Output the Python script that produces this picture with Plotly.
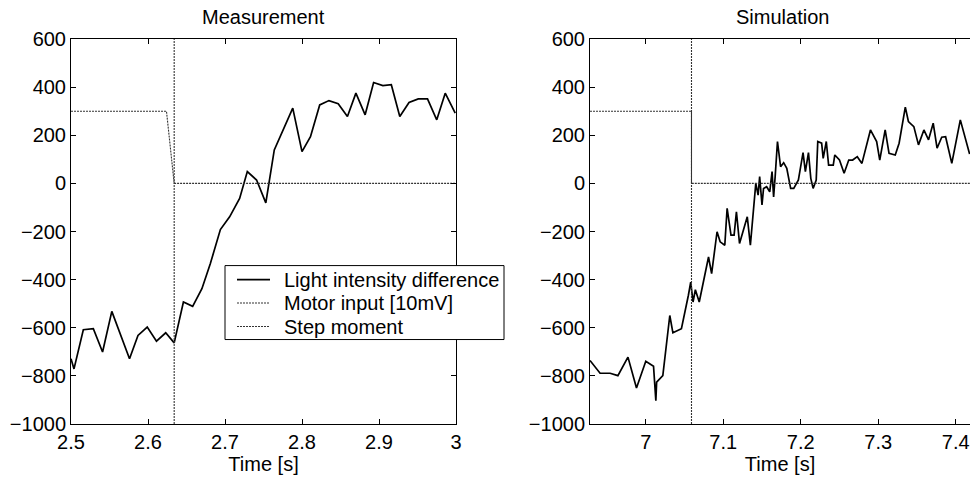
import plotly.graph_objects as go

# ---------------- data ----------------
# Measurement (left)
meas_t = [2.5, 2.5039, 2.516, 2.529, 2.541, 2.553, 2.576, 2.587, 2.599, 2.611,
          2.623, 2.634, 2.646, 2.658, 2.670, 2.681, 2.694, 2.706, 2.719, 2.729,
          2.741, 2.753, 2.764, 2.776, 2.788, 2.800, 2.811, 2.823, 2.835, 2.847,
          2.859, 2.870, 2.882, 2.893, 2.905, 2.916, 2.927, 2.939, 2.951, 2.963,
          2.975, 2.986, 2.999]
meas_light = [-729, -771, -608, -604, -701, -532, -729, -632, -597, -656,
              -621, -663, -493, -511, -438, -333, -192, -139, -63, 49,
              14, -81, 139, 229, 313, 132, 194, 326, 344, 331,
              278, 375, 285, 419, 406, 410, 278, 336, 351, 351,
              264, 375, 292]
meas_motor_t = [2.5, 2.624, 2.634, 3.0]
meas_motor = [300, 300, 0, 0]
meas_step_t = [2.634, 2.634]
step_y = [-1000, 600]

# Simulation (right)
sim_t = [6.928, 6.941, 6.954, 6.964, 6.977, 6.988, 7.000, 7.010, 7.013, 7.014,
         7.022, 7.031, 7.035, 7.046, 7.055, 7.058, 7.061, 7.064, 7.069, 7.081,
         7.085, 7.092, 7.096, 7.102, 7.105, 7.110, 7.114, 7.117, 7.121, 7.131,
         7.135, 7.140, 7.142, 7.145, 7.147, 7.150, 7.152, 7.156, 7.160, 7.163,
         7.165, 7.167, 7.170, 7.174, 7.178, 7.182, 7.187, 7.191, 7.197, 7.203,
         7.206, 7.210, 7.213, 7.216, 7.220, 7.222, 7.227, 7.229, 7.233, 7.236,
         7.242, 7.244, 7.250, 7.256, 7.262, 7.267, 7.273, 7.279, 7.290, 7.298,
         7.302, 7.309, 7.314, 7.322, 7.327, 7.335, 7.339, 7.346, 7.352, 7.359,
         7.365, 7.371, 7.376, 7.382, 7.387, 7.395, 7.406, 7.418]
sim_light = [-736, -789, -789, -799, -722, -850, -739, -760, -903, -826,
             -799, -549, -621, -604, -465, -410, -493, -442, -493, -306,
             -375, -201, -243, -257, -104, -215, -215, -118, -250, -139,
             -257, -76, 0, -49, 28, -90, -21, -14, -35, 49,
             -56, 28, 174, 69, 86, 63, -21, -21, 14, 128,
             49, 128, 21, -21, 14, 174, 167, 104, 174, 76,
             76, 118, 97, 42, 97, 97, 111, 83, 222, 174,
             97, 222, 125, 118, 167, 317, 257, 236, 160, 222,
             181, 250, 146, 192, 194, 83, 264, 122]
sim_motor_t = [6.928, 7.059, 7.059, 7.4185]
sim_motor = [300, 300, 0, 0]
sim_step_t = [7.059, 7.059]

y_ticks = [-1000, -800, -600, -400, -200, 0, 200, 400, 600]
left_xticks = [2.5, 2.6, 2.7, 2.8, 2.9, 3.0]
left_xlabels = ["2.5", "2.6", "2.7", "2.8", "2.9", "3"]
right_xticks = [7.0, 7.1, 7.2, 7.3, 7.4]
right_xlabels = ["7", "7.1", "7.2", "7.3", "7.4"]
legend_names = ["Light intensity difference", "Motor input [10mV]", "Step moment"]

# ---------------- figure ----------------
FONT = "Liberation Sans, Arial, Helvetica, sans-serif"
FS = 20
W, H = 970, 478
ML, MR, MT, MB = 71, 0, 39.3, 53.5
PW = W - ML - MR

def px_x(p):  # pixel -> paper x
    return (p - ML) / PW

def px_y(p):  # pixel -> paper y
    return 1 - (p - MT) / (H - MT - MB)

light_style = dict(color="black", width=1.7)
motor_style = dict(color="#333333", width=1.1, dash="2px,1px")
step_style = dict(color="#333333", width=1.1, dash="2px,1px")
styles = [light_style, motor_style, step_style]

fig = go.Figure()

fig.add_trace(go.Scatter(x=meas_t, y=meas_light, mode="lines", line=light_style,
                         name=legend_names[0], xaxis="x", yaxis="y"))
fig.add_trace(go.Scatter(x=meas_motor_t, y=meas_motor, mode="lines", line=motor_style,
                         name=legend_names[1], xaxis="x", yaxis="y"))
fig.add_trace(go.Scatter(x=meas_step_t, y=step_y, mode="lines", line=step_style,
                         name=legend_names[2], xaxis="x", yaxis="y"))

fig.add_trace(go.Scatter(x=sim_t, y=sim_light, mode="lines", line=light_style,
                         xaxis="x2", yaxis="y2"))
fig.add_trace(go.Scatter(x=sim_motor_t, y=sim_motor, mode="lines", line=motor_style,
                         xaxis="x2", yaxis="y2"))
fig.add_trace(go.Scatter(x=sim_step_t, y=step_y, mode="lines", line=step_style,
                         xaxis="x2", yaxis="y2"))

axis_common = dict(showline=True, linecolor="black", linewidth=1,
                   ticks="inside", ticklen=5, tickcolor="black",
                   showgrid=False, zeroline=False, automargin=False,
                   tickfont=dict(family=FONT, size=FS, color="black"))

fig.update_layout(
    width=W, height=H,
    margin=dict(l=ML, r=MR, t=MT, b=MB, autoexpand=False),
    paper_bgcolor="white", plot_bgcolor="white",
    font=dict(family=FONT, size=FS, color="black"),
    showlegend=False,
    xaxis=dict(domain=[0, px_x(456)], range=[2.5, 3.0], tickvals=left_xticks,
               ticktext=left_xlabels, mirror="ticks", anchor="y",
               title=dict(text="Time [s]", font=dict(family=FONT, size=FS), standoff=2),
               **axis_common),
    yaxis=dict(domain=[0, 1], range=[-1000, 600], tickvals=y_ticks, mirror="ticks",
               anchor="x", **axis_common),
    xaxis2=dict(domain=[px_x(590), 1.0], range=[6.928, 7.4185], tickvals=right_xticks,
                ticktext=right_xlabels, mirror="ticks", anchor="y2",
                title=dict(text="Time [s]", font=dict(family=FONT, size=FS), standoff=2),
                **axis_common),
    yaxis2=dict(domain=[0, 1], range=[-1000, 600], tickvals=y_ticks, mirror=False,
                anchor="x2", **axis_common),
)

# titles
fig.add_annotation(text="Measurement", x=px_x((71 + 456) / 2), y=px_y(17),
                   xref="paper", yref="paper", showarrow=False,
                   xanchor="center", yanchor="middle",
                   font=dict(family=FONT, size=FS, color="black"))
fig.add_annotation(text="Simulation", x=px_x(782.5), y=px_y(17),
                   xref="paper", yref="paper", showarrow=False,
                   xanchor="center", yanchor="middle",
                   font=dict(family=FONT, size=FS, color="black"))

# legend box (drawn as shapes + text to match the reference layout)
fig.add_shape(type="rect", xref="paper", yref="paper",
              x0=px_x(225), x1=px_x(504), y0=px_y(340), y1=px_y(266),
              line=dict(color="black", width=1), fillcolor="white", layer="above")
for i, name in enumerate(legend_names):
    yy = px_y(280 + i * 23.5)
    st = styles[i]
    fig.add_shape(type="line", xref="paper", yref="paper",
                  x0=px_x(237), x1=px_x(270), y0=yy, y1=yy,
                  line=dict(color=st["color"], width=st["width"], dash=st.get("dash", "solid")),
                  layer="above")
    fig.add_annotation(text=name, x=px_x(282), y=yy, xref="paper", yref="paper",
                       showarrow=False, xanchor="left", yanchor="middle",
                       font=dict(family=FONT, size=FS, color="black"))

fig.write_html("out.html")
